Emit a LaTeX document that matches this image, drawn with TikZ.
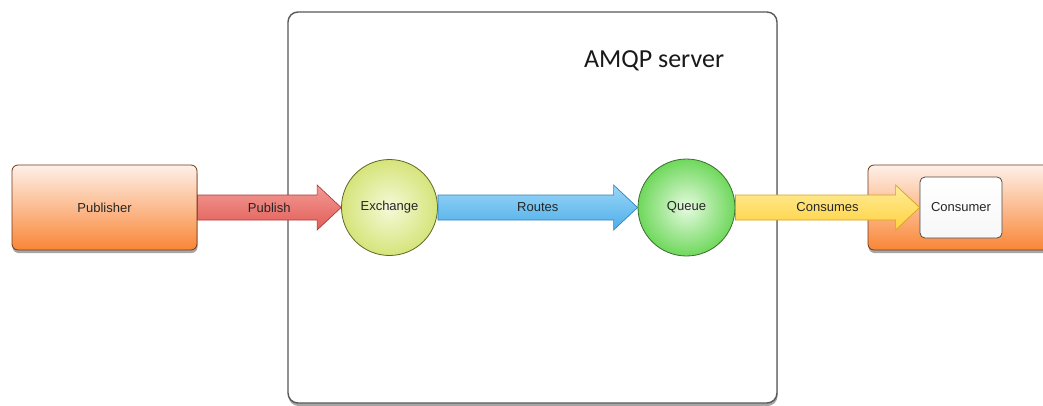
\documentclass[tikz,border=0pt]{standalone}
\usepackage{fontspec}
\setmainfont{Liberation Sans}
\newfontfamily\calibrifont{Carlito}
\usetikzlibrary{shadows,calc}
\definecolor{pubtop}{HTML}{FEF0E8}
\definecolor{pubbot}{HTML}{F98636}
\definecolor{publine}{HTML}{6E3A1C}
\definecolor{redtop}{HTML}{F29A94}
\definecolor{redbot}{HTML}{E25D58}
\definecolor{redline}{HTML}{B03A36}
\definecolor{bluetop}{HTML}{9AD6F7}
\definecolor{bluebot}{HTML}{4DAEEA}
\definecolor{blueline}{HTML}{3582B8}
\definecolor{yeltop}{HTML}{FFEC9A}
\definecolor{yelbot}{HTML}{FFD23E}
\definecolor{yelline}{HTML}{D9A21C}
\definecolor{exin}{HTML}{F6F9D8}
\definecolor{exout}{HTML}{D6E47A}
\definecolor{exline}{HTML}{5E6628}
\definecolor{qin}{HTML}{E6FAE0}
\definecolor{qout}{HTML}{6FD85C}
\definecolor{qline}{HTML}{3A6E2C}
\newcommand\fatarr[3]{%
  \path[#3] let \p1=(#1.east), \p2=(#2.west) in
    (\x1,\y1+12.5pt) -- (\x2-24pt,\y1+12.5pt) -- (\x2-24pt,\y1+22.5pt) --
    (\x2,\y1) -- (\x2-24pt,\y1-22.5pt) -- (\x2-24pt,\y1-12.5pt) --
    (\x1,\y1-12.5pt) -- cycle;}
\begin{document}
\begin{tikzpicture}[x=1pt,y=-1pt,
  txt/.style={font=\fontsize{13}{15}\selectfont, text=black!85, inner sep=0pt},
  shad/.style={drop shadow={shadow xshift=0.5pt, shadow yshift=-3pt, opacity=0.35, fill=black}},
  serverbox/.style={draw=black!65, line width=1.4pt, fill=white, rounded corners=10pt, shad},
  orangebox/.style={draw=publine, line width=0.8pt, top color=pubtop, bottom color=pubbot, rounded corners=6pt, shad},
  whitebox/.style={draw=black!70, line width=0.8pt, top color=white, bottom color=black!3, rounded corners=5pt},
  exnode/.style={circle, draw=exline, line width=0.8pt, inner color=exin, outer color=exout, minimum size=96pt, txt},
  qnode/.style={circle, draw=qline, line width=0.8pt, inner color=qin, outer color=qout, minimum size=97pt, txt},
  redarr/.style={draw=redline, line width=0.7pt, top color=redtop, bottom color=redbot},
  bluearr/.style={draw=blueline, line width=0.7pt, top color=bluetop, bottom color=bluebot},
  yelarr/.style={draw=yelline, line width=0.7pt, top color=yeltop, bottom color=yelbot},
]
\useasboundingbox (0,0) rectangle (1043,405);
\fill[white] (0,0) rectangle (1043,405);
% server
\node[serverbox, minimum width=489pt, minimum height=391pt] (srv) at (532.5,207.5) {};
\node[font=\calibrifont\fontsize{26}{30}\selectfont, text=black!90, inner sep=0pt] (srvlbl) at (654,61) {AMQP server};
% publisher
\node[orangebox, minimum width=185pt, minimum height=85pt, txt] (pub) at (104.5,207.5) {Publisher};
% consumer
\node[orangebox, minimum width=192pt, minimum height=85pt] (consbox) at (964,207.5) {};
\node[whitebox, minimum width=82pt, minimum height=61pt, txt] (cons) at (961,207.5) {Consumer};
% exchange, queue
\node[exnode] (ex) at (389.5,207.5) {};
\node[qnode] (q) at (686.5,207.5) {};
% arrows
\fatarr{pub}{ex}{redarr}
\fatarr{ex}{q}{bluearr}
\fatarr{q}{cons}{yelarr}
% labels
\node[txt] (exlbl) at (ex) {Exchange};
\node[txt] (qlbl) at (q) {Queue};
\node[txt] (publbl) at ($(pub.east)!0.5!(ex.west)$) {Publish};
\node[txt] (routelbl) at ($(ex.east)!0.5!(q.west)$) {Routes};
\node[txt] (conslbl) at ($(q.east)!0.5!(cons.west)$) {Consumes};
\end{tikzpicture}
\end{document}
